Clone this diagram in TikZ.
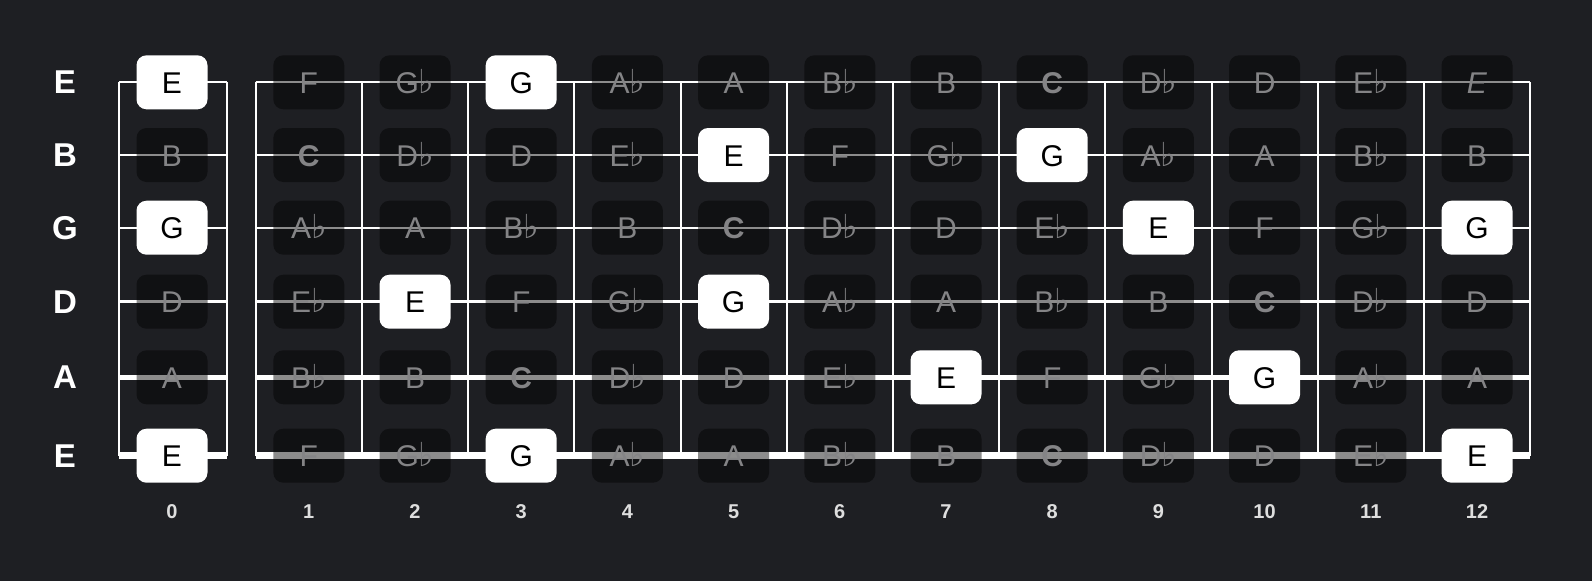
\documentclass[tikz,border=0pt]{standalone}
\usepackage{fontspec}
\setmainfont{Liberation Sans}
\newfontfamily\flatfont{DejaVu Sans}
\usepackage{tikz}
\usetikzlibrary{positioning}
\definecolor{boardbg}{RGB}{30,31,35}
\definecolor{notegray}{RGB}{132,132,134}
\definecolor{numgray}{RGB}{222,222,222}
\newcommand{\flt}{{\flatfont\fontsize{33}{33}\selectfont ♭}}

\begin{document}
\begin{tikzpicture}[
    x = 1pt, y = -1pt,
    stringline/.style = {
      draw = white, line cap = butt
    },
    fretline/.style = {
      draw = white, line width = 2pt
    },
    notebox/.style = {
      rectangle, rounded corners = 10pt, inner sep = 0pt,
      minimum width = 71pt, minimum height = 54pt,
      text height = 22pt, text depth = 0pt,
      font = \fontsize{30}{30}\selectfont
    },
    notedim/.style = {
      notebox, fill = black, fill opacity = .45, text opacity = 1,
      text = notegray
    },
    notelit/.style = {
      notebox, fill = white, text = black
    },
    strlabel/.style = {
      text = white, font = \bfseries\fontsize{33}{33}\selectfont
    },
    fretnum/.style = {
      text = numgray, font = \bfseries\fontsize{20}{20}\selectfont
    },
    ]

    % background
    \fill [boardbg] (0,0) rectangle (1592,581);
    \useasboundingbox (0,0) rectangle (1592,581);

    % draw strings, open column and fretboard
    \foreach \y/\w [count = \s] in {82.3/1.8, 155/1.8, 227.7/2.2, 301.7/3, 377.3/4.6, 455.7/6.6}
    {
      \coordinate (nl\s) at (119.3,\y);
      \coordinate (nr\s) at (226.7,\y);
      \coordinate (fl\s) at (255.7,\y);
      \coordinate (fr\s) at (1530.1,\y);
      \draw [stringline, line width = \w pt] (nl\s) -- (nr\s);
      \draw [stringline, line width = \w pt] (fl\s) -- (fr\s);
    }

    % draw nut box sides
    \draw [fretline] (nl1) -- (nl6);
    \draw [fretline] (nr1) -- (nr6);

    % draw frets
    \foreach \k in {0, ..., 12}
    {
      \coordinate (ft\k) at (255.7+\k*106.2, 82.3);
      \coordinate (fb\k) at (255.7+\k*106.2, 455.7);
      \draw [fretline] (ft\k) -- (fb\k);
    }

    % string names
    \node [strlabel] (lab1) at (65, 82.3) {E};
    \node [strlabel] (lab2) at (65, 155) {B};
    \node [strlabel] (lab3) at (65, 227.7) {G};
    \node [strlabel] (lab4) at (65, 301.7) {D};
    \node [strlabel] (lab5) at (65, 377.3) {A};
    \node [strlabel] (lab6) at (65, 455.7) {E};

    % draw notes
    \foreach \n/\t [count = \f from 0] in {E/lit, F/dim, G\flt/dim, G/lit, A\flt/dim, A/dim, B\flt/dim, B/dim, \textbf{C}/dim, D\flt/dim, D/dim, E\flt/dim, \textit{E}/dim}
    \node [note\t] (n1-\f) at ({\f==0 ? 172 : 255.7+(\f-0.5)*106.2}, 82.3) {\n};

    \foreach \n/\t [count = \f from 0] in {B/dim, \textbf{C}/dim, D\flt/dim, D/dim, E\flt/dim, E/lit, F/dim, G\flt/dim, G/lit, A\flt/dim, A/dim, B\flt/dim, B/dim}
    \node [note\t] (n2-\f) at ({\f==0 ? 172 : 255.7+(\f-0.5)*106.2}, 155) {\n};

    \foreach \n/\t [count = \f from 0] in {G/lit, A\flt/dim, A/dim, B\flt/dim, B/dim, \textbf{C}/dim, D\flt/dim, D/dim, E\flt/dim, E/lit, F/dim, G\flt/dim, G/lit}
    \node [note\t] (n3-\f) at ({\f==0 ? 172 : 255.7+(\f-0.5)*106.2}, 227.7) {\n};

    \foreach \n/\t [count = \f from 0] in {D/dim, E\flt/dim, E/lit, F/dim, G\flt/dim, G/lit, A\flt/dim, A/dim, B\flt/dim, B/dim, \textbf{C}/dim, D\flt/dim, D/dim}
    \node [note\t] (n4-\f) at ({\f==0 ? 172 : 255.7+(\f-0.5)*106.2}, 301.7) {\n};

    \foreach \n/\t [count = \f from 0] in {A/dim, B\flt/dim, B/dim, \textbf{C}/dim, D\flt/dim, D/dim, E\flt/dim, E/lit, F/dim, G\flt/dim, G/lit, A\flt/dim, A/dim}
    \node [note\t] (n5-\f) at ({\f==0 ? 172 : 255.7+(\f-0.5)*106.2}, 377.3) {\n};

    \foreach \n/\t [count = \f from 0] in {E/lit, F/dim, G\flt/dim, G/lit, A\flt/dim, A/dim, B\flt/dim, B/dim, \textbf{C}/dim, D\flt/dim, D/dim, E\flt/dim, E/lit}
    \node [note\t] (n6-\f) at ({\f==0 ? 172 : 255.7+(\f-0.5)*106.2}, 455.7) {\n};

    % fret numbers
    \foreach \f in {0, ..., 12}
    \node [fretnum] (num\f) at ({\f==0 ? 172 : 255.7+(\f-0.5)*106.2}, 512) {\f};
\end{tikzpicture}
\end{document}
